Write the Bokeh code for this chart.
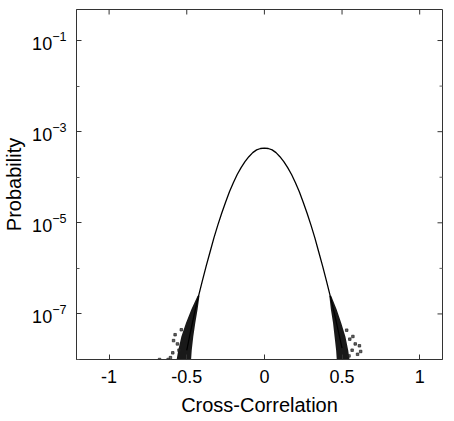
import math
from bokeh.plotting import figure
from bokeh.models import Range1d, FixedTicker, LogTickFormatter
from bokeh.embed import file_html
from bokeh.resources import INLINE

# ---- data ----
corr = [-0.500, -0.475, -0.450, -0.425, -0.400, -0.375, -0.350, -0.325, -0.300, -0.275,
        -0.250, -0.225, -0.200, -0.175, -0.150, -0.125, -0.100, -0.075, -0.050, -0.025,
        0.000, 0.025, 0.050, 0.075, 0.100, 0.125, 0.150, 0.175, 0.200, 0.225,
        0.250, 0.275, 0.300, 0.325, 0.350, 0.375, 0.400, 0.425, 0.450, 0.475, 0.500]
prob = [1.58e-8, 4.17e-8, 1.05e-7, 2.40e-7, 5.25e-7, 1.12e-6, 2.29e-6, 4.68e-6, 8.91e-6, 1.62e-5,
        2.82e-5, 4.79e-5, 7.59e-5, 1.15e-4, 1.62e-4, 2.19e-4, 2.82e-4, 3.47e-4, 3.98e-4, 4.27e-4,
        4.37e-4, 4.27e-4, 3.98e-4, 3.47e-4, 2.82e-4, 2.19e-4, 1.62e-4, 1.15e-4, 7.59e-5, 4.79e-5,
        2.82e-5, 1.62e-5, 8.91e-6, 4.68e-6, 2.29e-6, 1.12e-6, 5.25e-7, 2.40e-7, 1.05e-7, 4.37e-8, 1.78e-8]

# noisy tail spread (dense region), by probability level
cloud_prob = [2.5e-7, 1.26e-7, 6.3e-8, 3.16e-8, 1.58e-8, 1.0e-8]
right_inner = [0.418, 0.428, 0.442, 0.452, 0.462, 0.466]
right_outer = [0.430, 0.465, 0.495, 0.522, 0.540, 0.548]
left_inner = [-0.418, -0.430, -0.445, -0.458, -0.468, -0.472]
left_outer = [-0.430, -0.470, -0.505, -0.535, -0.555, -0.565]

# isolated tail samples
out_x = [0.530, 0.545, 0.550, 0.565, 0.570, 0.585, 0.600, 0.612, 0.620,
         -0.535, -0.550, -0.560, -0.575, -0.585, -0.590, -0.605, -0.620, -0.675]
out_p = [4.4e-8, 1.2e-8, 2.8e-8, 1.6e-8, 3.2e-8, 2.2e-8, 1.3e-8, 2.0e-8, 1.5e-8,
         4.5e-8, 1.6e-8, 2.2e-8, 3.5e-8, 2.6e-8, 1.4e-8, 1.1e-8, 1.0e-8, 1.0e-8]

x_ticks = [-1, -0.5, 0, 0.5, 1]
x_tick_labels = ["-1", "-0.5", "0", "0.5", "1"]
y_ticks = [1e-7, 1e-5, 1e-3, 1e-1]
y_minor = [1e-8, 1e-6, 1e-4, 1e-2]

FONT = "Liberation Sans"
X0, X1 = -1.21, 1.147
Y0, Y1 = 1e-8, 0.48

p = figure(frame_width=366, frame_height=350, output_backend="svg", toolbar_location=None,
           y_axis_type="log",
           x_range=Range1d(X0, X1), y_range=Range1d(Y0, Y1),
           min_border_left=70, min_border_right=1, min_border_top=9, min_border_bottom=52)
p.title = None
p.grid.visible = False
p.background_fill_color = "white"
p.border_fill_color = "white"
p.outline_line_color = "#333333"
p.outline_line_width = 1

p.line(corr, prob, line_color="black", line_width=1.3)
p.harea(y=cloud_prob, x1=right_inner, x2=right_outer, fill_color="black", fill_alpha=0.9)
p.harea(y=cloud_prob, x1=left_inner, x2=left_outer, fill_color="black", fill_alpha=0.9)
p.scatter(out_x, out_p, marker="square", size=2.5, color="#222222", alpha=0.7)

# mirrored inward ticks on the top and right frame edges
p.scatter(x_ticks, [Y1] * len(x_ticks), marker="dash", angle=math.pi / 2, size=10,
          line_color="#333333", line_width=1)
p.scatter([X1] * len(y_ticks), y_ticks, marker="dash", size=10,
          line_color="#333333", line_width=1)
p.scatter([X1] * len(y_minor), y_minor, marker="dash", size=6,
          line_color="#666666", line_width=1)

# bottom axis
xa = p.xaxis[0]
xa.ticker = FixedTicker(ticks=x_ticks)
xa.major_label_overrides = dict(zip(x_ticks, x_tick_labels))
xa.axis_label = "Cross-Correlation"
# left axis
ya = p.yaxis[0]
ya.ticker = FixedTicker(ticks=y_ticks, minor_ticks=y_minor)
ya.formatter = LogTickFormatter()
ya.axis_label = "Probability"

for ax in (xa, ya):
    ax.axis_line_color = "#333333"
    ax.major_tick_in = 5
    ax.major_tick_out = 0
    ax.minor_tick_in = 3
    ax.minor_tick_out = 0
    ax.major_tick_line_color = "#333333"
    ax.minor_tick_line_color = "#555555"
    ax.major_label_text_font = FONT
    ax.major_label_text_font_size = "18px"
    ax.major_label_text_color = "black"
    ax.axis_label_text_font = FONT
    ax.axis_label_text_font_size = "20px"
    ax.axis_label_text_font_style = "normal"
    ax.axis_label_text_color = "black"

xa.major_label_standoff = 10
xa.axis_label_standoff = 8
ya.major_label_standoff = 10
ya.axis_label_standoff = 4
xa.minor_tick_in = 0

open("out.html", "w").write(file_html(p, INLINE))
